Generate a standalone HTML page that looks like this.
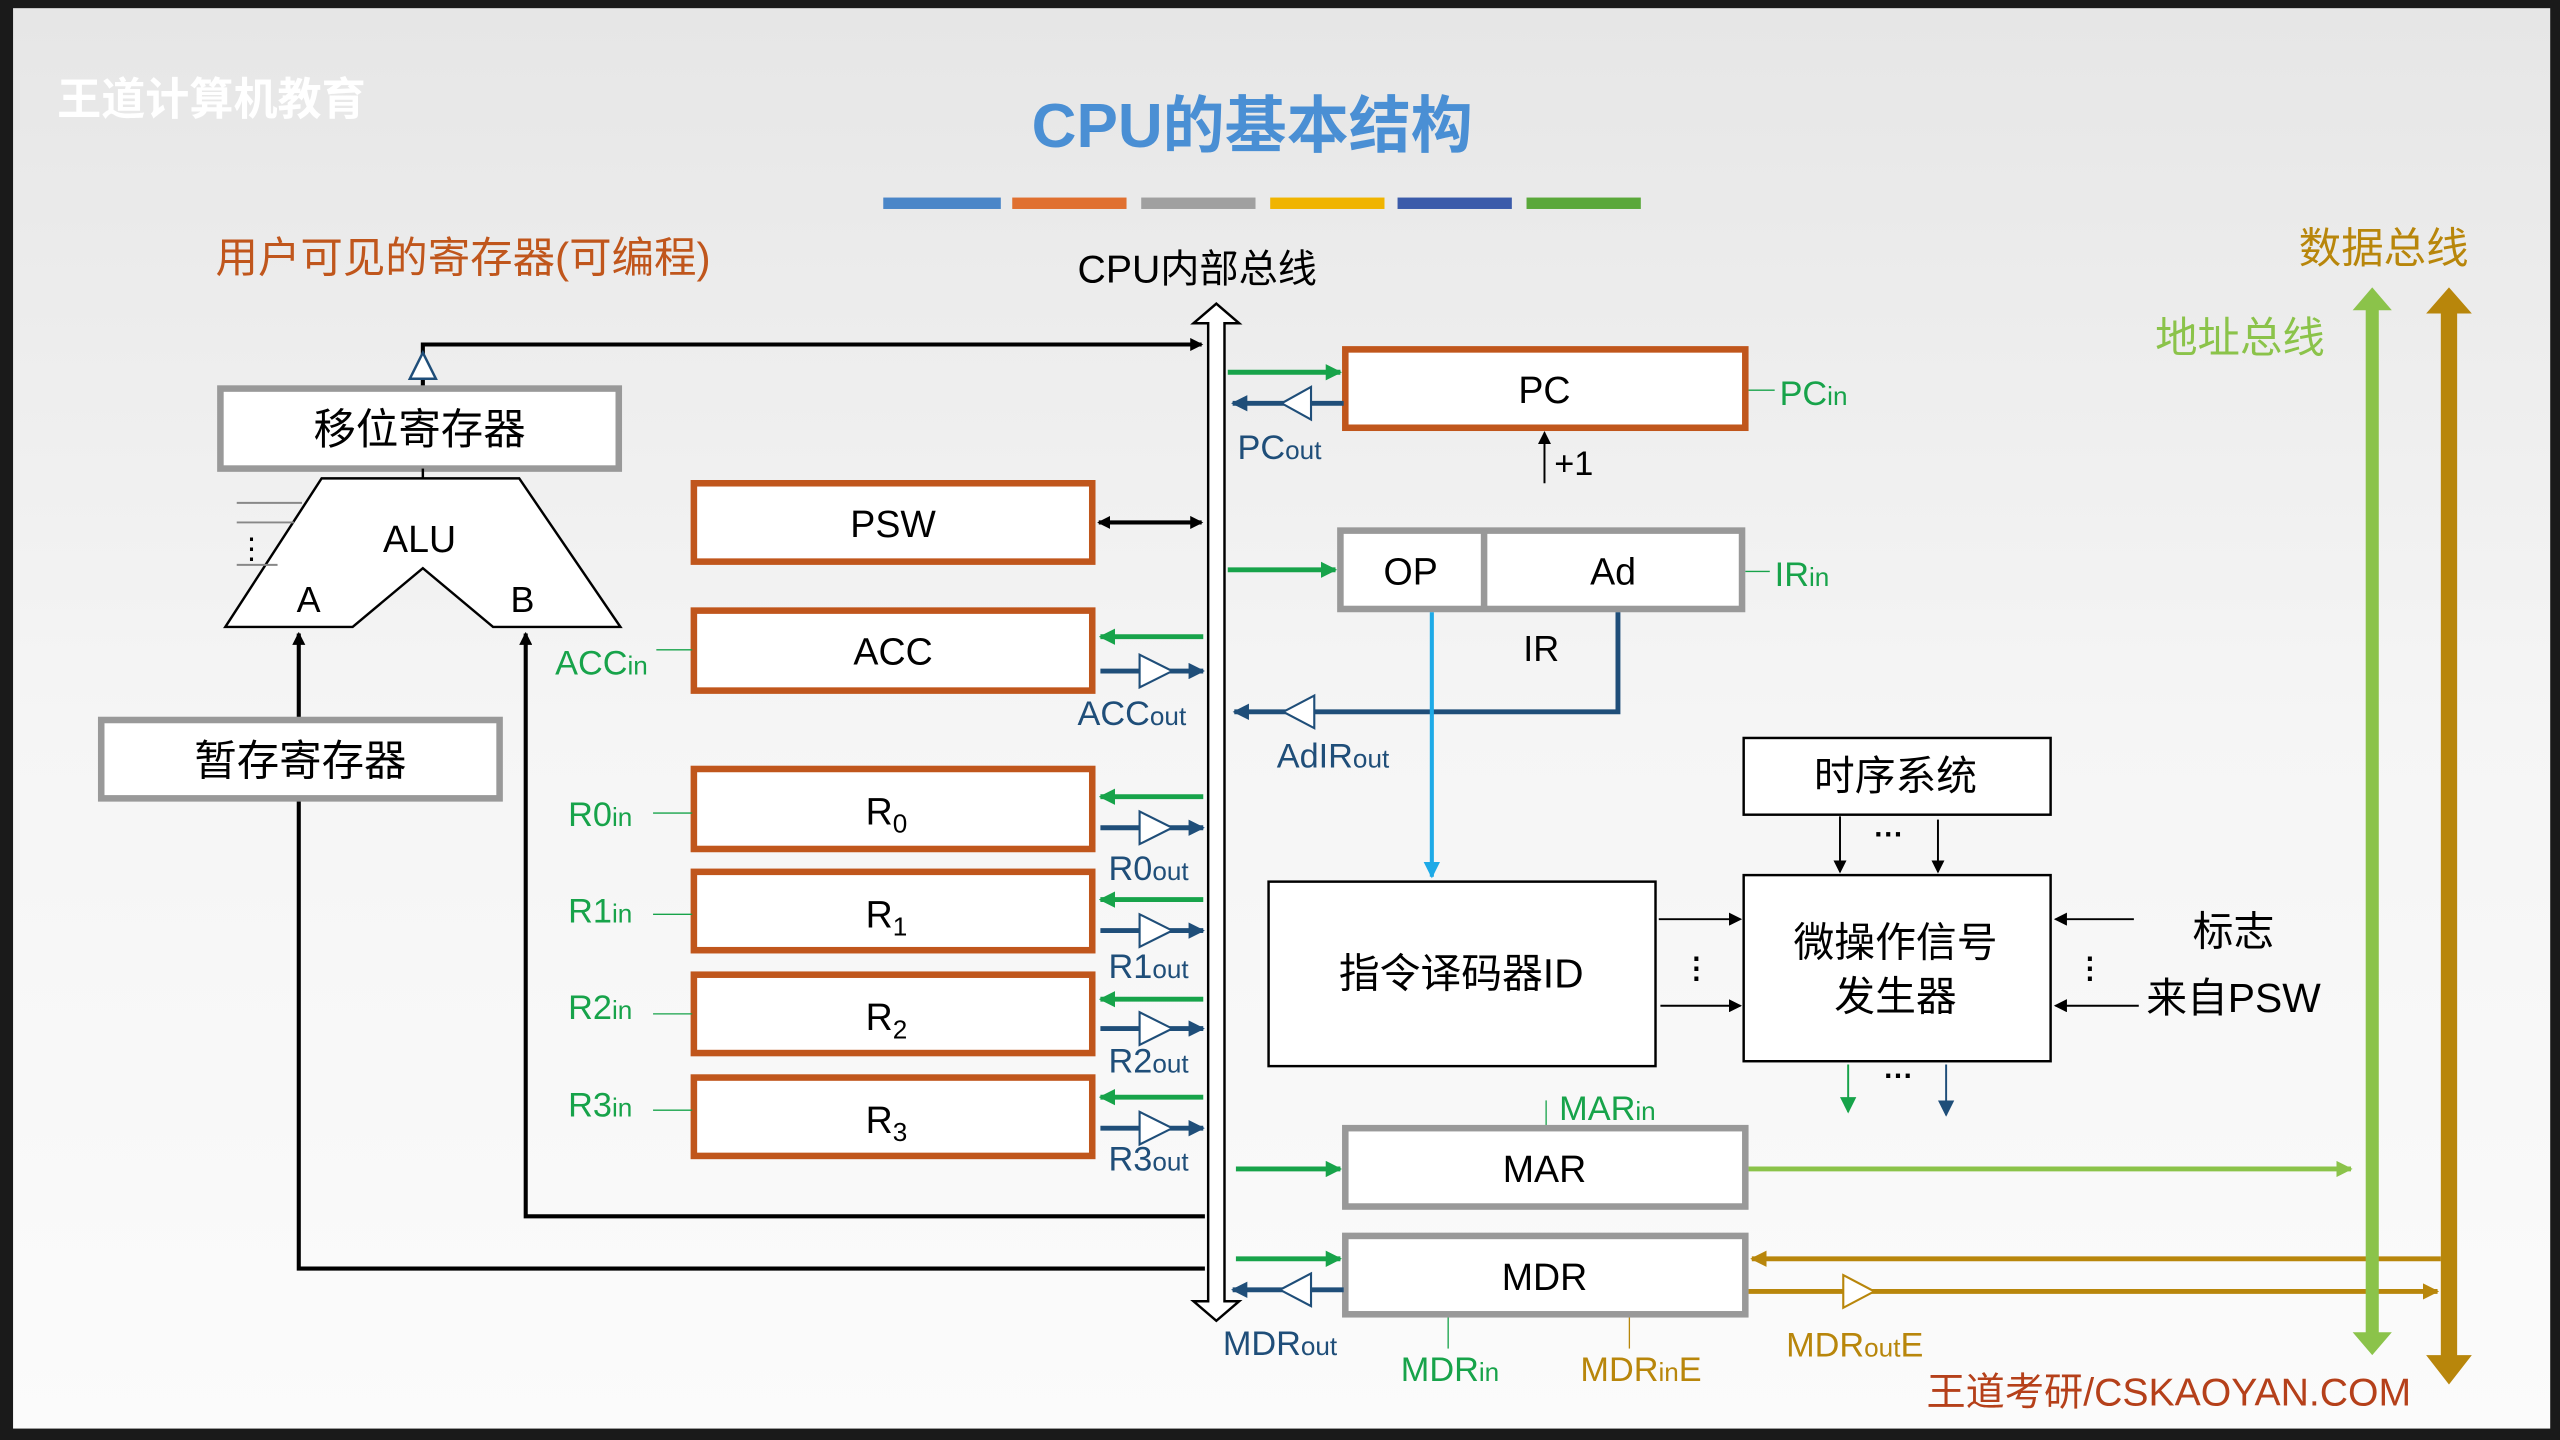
<!DOCTYPE html>
<html><head><meta charset="utf-8"><style>
html,body{margin:0;padding:0;background:#1a1a1a;width:2560px;height:1440px;overflow:hidden}
svg{display:block}
text{font-family:"Liberation Sans","Noto Sans CJK SC",sans-serif}
</style></head><body>
<svg width="2560" height="1440" viewBox="0 0 1568 882" xmlns="http://www.w3.org/2000/svg">
<defs>
<linearGradient id="bg" x1="0" y1="0" x2="0" y2="1"><stop offset="0" stop-color="#e6e6e6"/><stop offset="0.5" stop-color="#f5f5f5"/><stop offset="1" stop-color="#fbfbfb"/></linearGradient>
<marker id="ak" markerWidth="8" markerHeight="8" refX="7" refY="4" orient="auto" markerUnits="userSpaceOnUse"><path d="M0,0 L8,4 L0,8z" fill="#000"/></marker>
<marker id="akS" markerWidth="8" markerHeight="8" refX="1" refY="4" orient="auto" markerUnits="userSpaceOnUse"><path d="M8,0 L0,4 L8,8z" fill="#000"/></marker>
<marker id="ag" markerWidth="10" markerHeight="10" refX="9" refY="5" orient="auto" markerUnits="userSpaceOnUse"><path d="M0,0 L10,5 L0,10z" fill="#17a34a"/></marker>
<marker id="an" markerWidth="10" markerHeight="10" refX="9" refY="5" orient="auto" markerUnits="userSpaceOnUse"><path d="M0,0 L10,5 L0,10z" fill="#1f4e79"/></marker>
<marker id="ac" markerWidth="10" markerHeight="10" refX="9" refY="5" orient="auto" markerUnits="userSpaceOnUse"><path d="M0,0 L10,5 L0,10z" fill="#1eaae7"/></marker>
<marker id="al" markerWidth="10" markerHeight="10" refX="9" refY="5" orient="auto" markerUnits="userSpaceOnUse"><path d="M0,0 L10,5 L0,10z" fill="#8bc34a"/></marker>
<marker id="ao" markerWidth="10" markerHeight="10" refX="9" refY="5" orient="auto" markerUnits="userSpaceOnUse"><path d="M0,0 L10,5 L0,10z" fill="#b8860b"/></marker>
</defs>
<rect x="8" y="5" width="1554" height="870" fill="url(#bg)"/>
<text x="35" y="70" font-size="27" fill="#fff" font-weight="bold">王道计算机教育</text>
<text x="767" y="90" font-size="38" fill="#4a8fd4" font-weight="bold" text-anchor="middle">CPU的基本结构</text>
<rect x="541" y="121" width="72" height="7" fill="#4a86c8"/><rect x="620" y="121" width="70" height="7" fill="#e07030"/><rect x="699" y="121" width="70" height="7" fill="#a0a0a0"/><rect x="778" y="121" width="70" height="7" fill="#f0b400"/><rect x="856" y="121" width="70" height="7" fill="#3b5baa"/><rect x="935" y="121" width="70" height="7" fill="#5aa83a"/>
<text x="132" y="167" font-size="26" fill="#c0561c">用户可见的寄存器(可编程)</text>
<text x="660" y="173" font-size="24" fill="#000">CPU内部总线</text>
<path d="M740,198 L731,198 L745,186 L759,198 L750,198 L750,797 L759,797 L745,809 L731,797 L740,797Z" fill="#fff" stroke="#000" stroke-width="1.5"/>
<path d="M259,238 V211 H736" fill="none" stroke="#000" stroke-width="2.5" marker-end="url(#ak)"/>
<path d="M251,232 L259,216 L267,232Z" fill="#fff" stroke="#1f4e79" stroke-width="1.5"/>
<rect x="135" y="238" width="244" height="49" fill="#fff" stroke="#999" stroke-width="4"/>
<text x="257" y="272" font-size="26" text-anchor="middle">移位寄存器</text>
<line x1="259" y1="287" x2="259" y2="293" stroke="#000" stroke-width="1.5"/>
<path d="M197,293 L318,293 L380,384 L302,384 L259,348 L216,384 L138,384Z" fill="#fff" stroke="#000" stroke-width="1.5"/>
<text x="257" y="338" font-size="23" text-anchor="middle">ALU</text>
<text x="189" y="375" font-size="22" text-anchor="middle">A</text>
<text x="320" y="375" font-size="22" text-anchor="middle">B</text>
<g stroke="#888" stroke-width="1.2"><line x1="145" y1="308" x2="185" y2="308"/><line x1="145" y1="320" x2="180" y2="320"/><line x1="145" y1="346" x2="170" y2="346"/></g>
<text x="154" y="342" font-size="18" text-anchor="middle">⋮</text>
<path d="M738,777 H183 V388" fill="none" stroke="#000" stroke-width="2.5" marker-end="url(#ak)"/>
<path d="M738,745 H322 V388" fill="none" stroke="#000" stroke-width="2.5" marker-end="url(#ak)"/>
<rect x="62" y="441" width="244" height="48" fill="#fff" stroke="#999" stroke-width="4"/>
<text x="184" y="475" font-size="26" text-anchor="middle">暂存寄存器</text>
<rect x="425" y="296" width="244" height="48" fill="#fff" stroke="#c0561c" stroke-width="4"/>
<text x="547" y="329" font-size="23" text-anchor="middle">PSW</text>
<line x1="673" y1="320" x2="736" y2="320" stroke="#000" stroke-width="2.5" marker-start="url(#akS)" marker-end="url(#ak)"/>
<g font-size="23" text-anchor="middle">
<rect x="425" y="374" width="244" height="49" fill="#fff" stroke="#c0561c" stroke-width="4"/><text x="547" y="407">ACC</text>
<rect x="425" y="471" width="244" height="49" fill="#fff" stroke="#c0561c" stroke-width="4"/><text x="543" y="505" font-family="Liberation Serif">R<tspan font-size="16" dy="5">0</tspan></text>
<rect x="425" y="534" width="244" height="48" fill="#fff" stroke="#c0561c" stroke-width="4"/><text x="543" y="568" font-family="Liberation Serif">R<tspan font-size="16" dy="5">1</tspan></text>
<rect x="425" y="597" width="244" height="48" fill="#fff" stroke="#c0561c" stroke-width="4"/><text x="543" y="631" font-family="Liberation Serif">R<tspan font-size="16" dy="5">2</tspan></text>
<rect x="425" y="660" width="244" height="48" fill="#fff" stroke="#c0561c" stroke-width="4"/><text x="543" y="694" font-family="Liberation Serif">R<tspan font-size="16" dy="5">3</tspan></text>
</g>
<g>
<line x1="737" y1="390" x2="674" y2="390" stroke="#17a34a" stroke-width="3" marker-end="url(#ag)"/>
<line x1="674" y1="411" x2="737" y2="411" stroke="#1f4e79" stroke-width="3" marker-end="url(#an)"/>
<path d="M698,401 L718,411 L698,421Z" fill="#fff" stroke="#1f4e79" stroke-width="1.3"/>
<line x1="737" y1="488" x2="674" y2="488" stroke="#17a34a" stroke-width="3" marker-end="url(#ag)"/>
<line x1="674" y1="507" x2="737" y2="507" stroke="#1f4e79" stroke-width="3" marker-end="url(#an)"/>
<path d="M698,497 L718,507 L698,517Z" fill="#fff" stroke="#1f4e79" stroke-width="1.3"/>
<line x1="737" y1="551" x2="674" y2="551" stroke="#17a34a" stroke-width="3" marker-end="url(#ag)"/>
<line x1="674" y1="570" x2="737" y2="570" stroke="#1f4e79" stroke-width="3" marker-end="url(#an)"/>
<path d="M698,560 L718,570 L698,580Z" fill="#fff" stroke="#1f4e79" stroke-width="1.3"/>
<line x1="737" y1="612" x2="674" y2="612" stroke="#17a34a" stroke-width="3" marker-end="url(#ag)"/>
<line x1="674" y1="630" x2="737" y2="630" stroke="#1f4e79" stroke-width="3" marker-end="url(#an)"/>
<path d="M698,620 L718,630 L698,640Z" fill="#fff" stroke="#1f4e79" stroke-width="1.3"/>
<line x1="737" y1="672" x2="674" y2="672" stroke="#17a34a" stroke-width="3" marker-end="url(#ag)"/>
<line x1="674" y1="691" x2="737" y2="691" stroke="#1f4e79" stroke-width="3" marker-end="url(#an)"/>
<path d="M698,681 L718,691 L698,701Z" fill="#fff" stroke="#1f4e79" stroke-width="1.3"/>
</g>
<g font-size="21" fill="#1f4e79">
<text x="660" y="444">ACC<tspan font-size="16">out</tspan></text>
<text x="679" y="539">R0<tspan font-size="16">out</tspan></text>
<text x="679" y="599">R1<tspan font-size="16">out</tspan></text>
<text x="679" y="657">R2<tspan font-size="16">out</tspan></text>
<text x="679" y="717">R3<tspan font-size="16">out</tspan></text>
<text x="758" y="281">PC<tspan font-size="16">out</tspan></text>
<text x="782" y="470">AdIR<tspan font-size="16">out</tspan></text>
<text x="749" y="830">MDR<tspan font-size="16">out</tspan></text>
</g>
<g font-size="21" fill="#17a34a">
<text x="340" y="413">ACC<tspan font-size="16">in</tspan></text>
<text x="348" y="506">R0<tspan font-size="16">in</tspan></text>
<text x="348" y="565">R1<tspan font-size="16">in</tspan></text>
<text x="348" y="624">R2<tspan font-size="16">in</tspan></text>
<text x="348" y="684">R3<tspan font-size="16">in</tspan></text>
<text x="1090" y="248">PC<tspan font-size="16">in</tspan></text>
<text x="1087" y="359">IR<tspan font-size="16">in</tspan></text>
<text x="955" y="686">MAR<tspan font-size="16">in</tspan></text>
<text x="858" y="846">MDR<tspan font-size="16">in</tspan></text>
</g>
<g stroke="#17a34a" stroke-width="0.8"><line x1="402" y1="398" x2="424" y2="398"/><line x1="400" y1="498" x2="424" y2="498"/><line x1="400" y1="560" x2="424" y2="560"/><line x1="400" y1="621" x2="424" y2="621"/><line x1="400" y1="680" x2="424" y2="680"/><line x1="1071" y1="239" x2="1087" y2="239"/><line x1="1069" y1="350" x2="1084" y2="350"/><line x1="947" y1="674" x2="947" y2="690"/><line x1="887" y1="806" x2="887" y2="826"/></g>
<line x1="998" y1="806" x2="998" y2="826" stroke="#b8860b" stroke-width="0.8"/>
<text x="968" y="846" font-size="21" fill="#b8860b">MDR<tspan font-size="16">in</tspan>E</text>
<text x="1094" y="831" font-size="21" fill="#b8860b">MDR<tspan font-size="16">out</tspan>E</text>
<rect x="824" y="214" width="245" height="48" fill="#fff" stroke="#c0561c" stroke-width="4"/>
<text x="946" y="247" font-size="23" text-anchor="middle">PC</text>
<line x1="752" y1="228" x2="821" y2="228" stroke="#17a34a" stroke-width="3" marker-end="url(#ag)"/>
<line x1="823" y1="247" x2="755" y2="247" stroke="#1f4e79" stroke-width="3" marker-end="url(#an)"/>
<path d="M803,237 L785,247 L803,257Z" fill="#fff" stroke="#1f4e79" stroke-width="1.3"/>
<line x1="946" y1="296" x2="946" y2="265" stroke="#000" stroke-width="1.2" marker-end="url(#ak)"/>
<text x="952" y="291" font-size="21">+1</text>
<rect x="821" y="325" width="246" height="48" fill="#fff" stroke="#999" stroke-width="4"/>
<line x1="909" y1="325" x2="909" y2="373" stroke="#999" stroke-width="4"/>
<text x="864" y="358" font-size="23" text-anchor="middle">OP</text>
<text x="988" y="358" font-size="23" text-anchor="middle">Ad</text>
<text x="944" y="405" font-size="22" text-anchor="middle">IR</text>
<line x1="752" y1="349" x2="818" y2="349" stroke="#17a34a" stroke-width="3" marker-end="url(#ag)"/>
<path d="M991,375 V436 H756" fill="none" stroke="#1f4e79" stroke-width="3" marker-end="url(#an)"/>
<path d="M805,426 L786,436 L805,446Z" fill="#fff" stroke="#1f4e79" stroke-width="1.3"/>
<line x1="877" y1="375" x2="877" y2="537" stroke="#1eaae7" stroke-width="2.5" marker-end="url(#ac)"/>
<rect x="777" y="540" width="237" height="113" fill="#fff" stroke="#000" stroke-width="1.5"/>
<text x="895" y="605" font-size="25" text-anchor="middle">指令译码器ID</text>
<rect x="1068" y="452" width="188" height="47" fill="#fff" stroke="#000" stroke-width="1.5"/>
<text x="1161" y="484" font-size="25" text-anchor="middle">时序系统</text>
<rect x="1068" y="536" width="188" height="114" fill="#fff" stroke="#000" stroke-width="1.5"/>
<text x="1161" y="586" font-size="25" text-anchor="middle">微操作信号</text>
<text x="1161" y="619" font-size="25" text-anchor="middle">发生器</text>
<g stroke="#000" stroke-width="1.2">
<line x1="1016" y1="563" x2="1066" y2="563" marker-end="url(#ak)"/>
<line x1="1017" y1="616" x2="1066" y2="616" marker-end="url(#ak)"/>
<line x1="1127" y1="500" x2="1127" y2="534" marker-end="url(#ak)"/>
<line x1="1187" y1="502" x2="1187" y2="534" marker-end="url(#ak)"/>
<line x1="1307" y1="563" x2="1259" y2="563" marker-end="url(#ak)"/>
<line x1="1310" y1="616" x2="1259" y2="616" marker-end="url(#ak)"/>
</g>
<line x1="1132" y1="652" x2="1132" y2="681" stroke="#17a34a" stroke-width="1.2" marker-end="url(#ag)"/>
<line x1="1192" y1="652" x2="1192" y2="683" stroke="#1f4e79" stroke-width="1.2" marker-end="url(#an)"/>
<g font-size="18" text-anchor="middle" font-weight="bold"><text x="1039" y="599">⋮</text><text x="1280" y="599">⋮</text><text x="1157" y="517">···</text><text x="1163" y="665">···</text></g>
<text x="1368" y="579" font-size="25" text-anchor="middle">标志</text>
<text x="1368" y="620" font-size="25" text-anchor="middle">来自PSW</text>
<rect x="824" y="691" width="245" height="48" fill="#fff" stroke="#999" stroke-width="4"/>
<text x="946" y="724" font-size="23" text-anchor="middle">MAR</text>
<line x1="757" y1="716" x2="821" y2="716" stroke="#17a34a" stroke-width="3" marker-end="url(#ag)"/>
<line x1="1071" y1="716" x2="1440" y2="716" stroke="#8bc34a" stroke-width="3" marker-end="url(#al)"/>
<rect x="824" y="757" width="245" height="48" fill="#fff" stroke="#999" stroke-width="4"/>
<text x="946" y="790" font-size="23" text-anchor="middle">MDR</text>
<line x1="757" y1="771" x2="821" y2="771" stroke="#17a34a" stroke-width="3" marker-end="url(#ag)"/>
<line x1="823" y1="790" x2="755" y2="790" stroke="#1f4e79" stroke-width="3" marker-end="url(#an)"/>
<path d="M803,780 L784,790 L803,800Z" fill="#fff" stroke="#1f4e79" stroke-width="1.3"/>
<line x1="1495" y1="771" x2="1073" y2="771" stroke="#b8860b" stroke-width="3" marker-end="url(#ao)"/>
<line x1="1071" y1="791" x2="1493" y2="791" stroke="#b8860b" stroke-width="3" marker-end="url(#ao)"/>
<path d="M1129,781 L1148,791 L1129,801Z" fill="#fff" stroke="#b8860b" stroke-width="1.3"/>
<path d="M1449,190 L1441,190 L1453,176 L1465,190 L1457,190 L1457,816 L1465,816 L1453,830 L1441,816 L1449,816Z" fill="#8bc34a"/>
<path d="M1495,192 L1486,192 L1500,176 L1514,192 L1505,192 L1505,830 L1514,830 L1500,848 L1486,830 L1495,830Z" fill="#b8860b"/>
<text x="1320" y="216" font-size="26" fill="#8bc34a">地址总线</text>
<text x="1408" y="161" font-size="26" fill="#b8860b">数据总线</text>
<text x="1180" y="861" font-size="24" fill="#b5401a">王道考研/CSKAOYAN.COM</text>
</svg>
</body></html>
